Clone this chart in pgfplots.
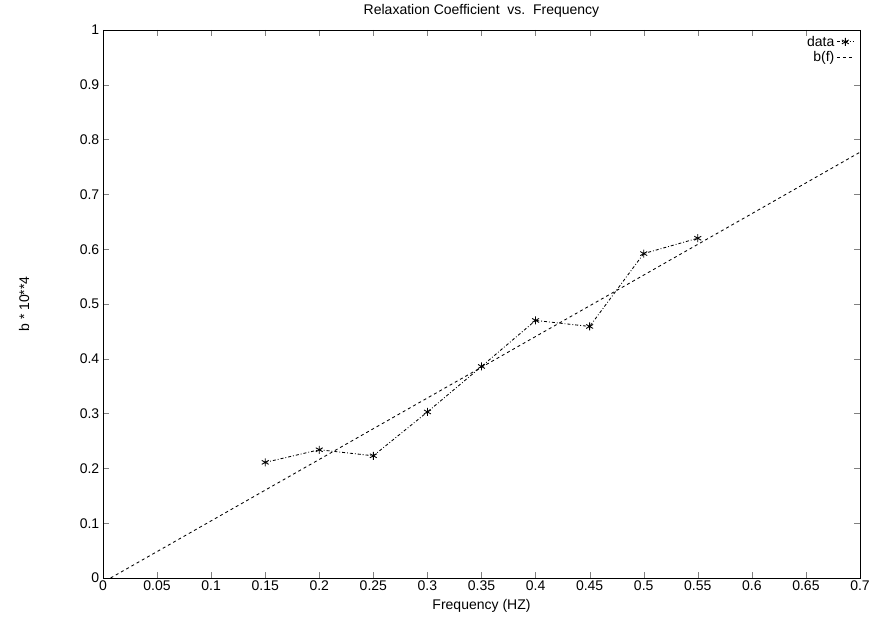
\documentclass[border=0pt]{standalone}
\usepackage{pgfplots}
\pgfplotsset{compat=1.18}
\usepackage{fontspec}
\setmainfont{Liberation Sans}
\begin{document}
\begin{tikzpicture}[x=1pt,y=1pt]
\useasboundingbox (0,0) rectangle (870,623);
\begin{axis}[
  at={(103pt,45pt)}, anchor=south west,
  scale only axis, width=757pt, height=548pt,
  xmin=0, xmax=0.7, ymin=0, ymax=1,
  xtick={0,0.05,...,0.7}, ytick={0,0.1,...,1},
  xticklabels={0,0.05,0.1,0.15,0.2,0.25,0.3,0.35,0.4,0.45,0.5,0.55,0.6,0.65,0.7},
  yticklabels={0,0.1,0.2,0.3,0.4,0.5,0.6,0.7,0.8,0.9,1},
  tick align=inside, tick pos=both, major tick length=6pt,
  tick label style={font=\fontsize{14}{16}\selectfont},
  xticklabel style={yshift=1pt},
  label style={font=\fontsize{14}{16}\selectfont},
  title style={font=\fontsize{14}{16}\selectfont, at={(0.5,1)}, anchor=south, yshift=3pt},
  title={Relaxation Coefficient\ \ vs.\ \ Frequency},
  xlabel={Frequency (HZ)},
  ylabel={b * 10**4},
  xlabel style={at={(0.5,0)}, anchor=north, yshift=-18pt},
  ylabel style={at={(0,0.5)}, anchor=south, yshift=70pt},
  line width=0.85pt,
  legend style={at={(0.997,0.997)}, anchor=north east, draw=none, fill=none, font=\fontsize{14}{16}\selectfont, legend cell align=right, row sep=0pt, inner ysep=2pt},
  legend plot pos=right,
]
\addplot[black, dashdotted, mark=asterisk, mark size=4pt, mark options={solid}] coordinates {
 (0.15,0.211) (0.20,0.234) (0.25,0.223) (0.30,0.303) (0.35,0.386)
 (0.40,0.470) (0.45,0.459) (0.50,0.592) (0.55,0.620)
};
\addlegendentry{data}
\addplot[black, dashed] coordinates {(0.007,0) (0.7,0.777)};
\addlegendentry{b(f)}
\end{axis}
\end{tikzpicture}
\end{document}
